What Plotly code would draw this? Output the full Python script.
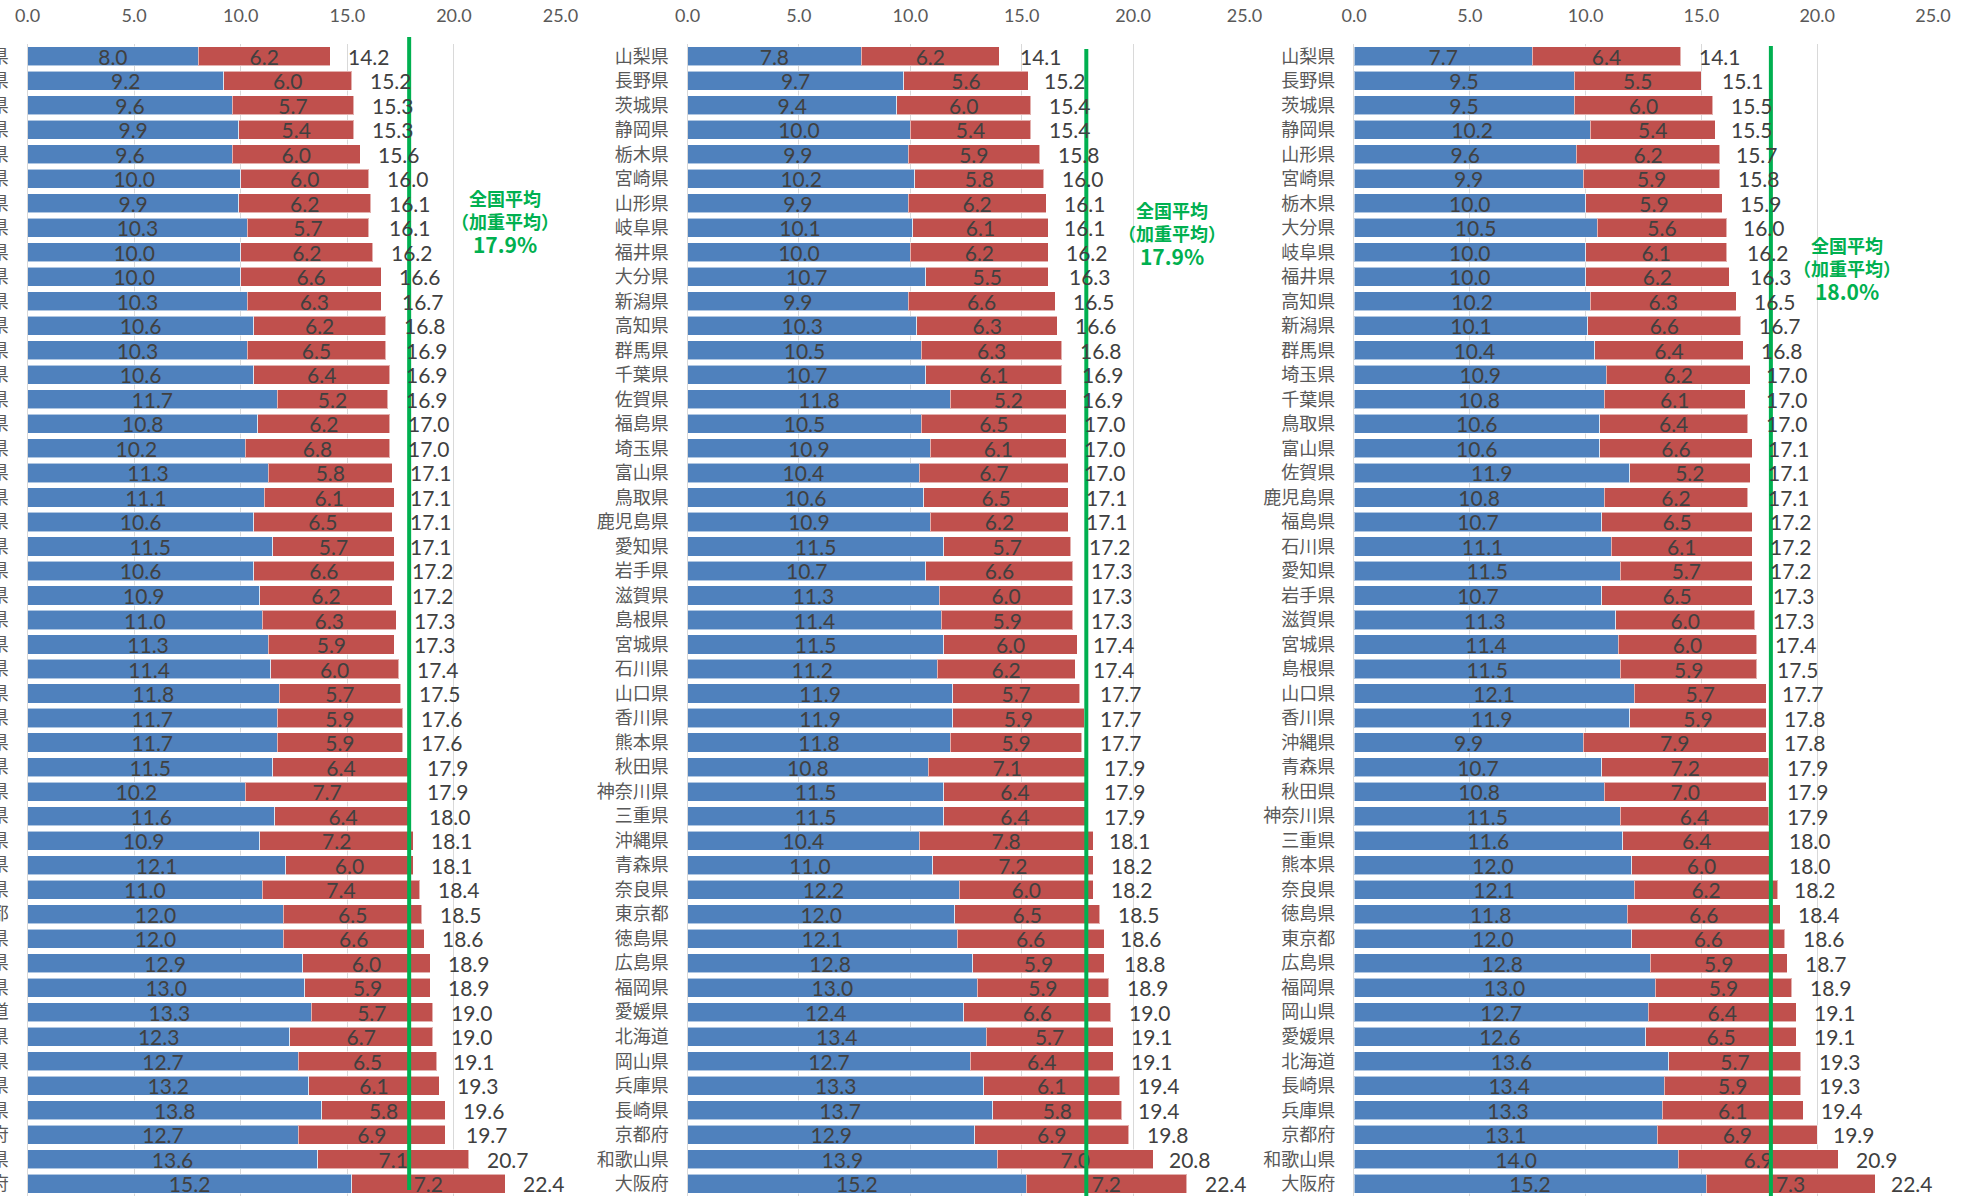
import plotly.graph_objects as go

# ---------------- data ----------------
names_a = ["山梨県", "長野県", "茨城県", "静岡県", "栃木県", "山形県", "宮崎県", "岐阜県", "福井県", "新潟県",
           "高知県", "大分県", "群馬県", "千葉県", "佐賀県", "福島県", "富山県", "埼玉県", "鹿児島県", "鳥取県",
           "愛知県", "岩手県", "滋賀県", "石川県", "島根県", "宮城県", "山口県", "熊本県", "香川県", "神奈川県",
           "沖縄県", "三重県", "秋田県", "奈良県", "青森県", "東京都", "徳島県", "広島県", "福岡県", "北海道",
           "愛媛県", "岡山県", "兵庫県", "長崎県", "京都府", "和歌山県", "大阪府"]
blue_a = [8.0, 9.2, 9.6, 9.9, 9.6, 10.0, 9.9, 10.3, 10.0, 10.0,
          10.3, 10.6, 10.3, 10.6, 11.7, 10.8, 10.2, 11.3, 11.1, 10.6,
          11.5, 10.6, 10.9, 11.0, 11.3, 11.4, 11.8, 11.7, 11.7, 11.5,
          10.2, 11.6, 10.9, 12.1, 11.0, 12.0, 12.0, 12.9, 13.0, 13.3,
          12.3, 12.7, 13.2, 13.8, 12.7, 13.6, 15.2]
red_a = [6.2, 6.0, 5.7, 5.4, 6.0, 6.0, 6.2, 5.7, 6.2, 6.6,
         6.3, 6.2, 6.5, 6.4, 5.2, 6.2, 6.8, 5.8, 6.1, 6.5,
         5.7, 6.6, 6.2, 6.3, 5.9, 6.0, 5.7, 5.9, 5.9, 6.4,
         7.7, 6.4, 7.2, 6.0, 7.4, 6.5, 6.6, 6.0, 5.9, 5.7,
         6.7, 6.5, 6.1, 5.8, 6.9, 7.1, 7.2]
total_a = [14.2, 15.2, 15.3, 15.3, 15.6, 16.0, 16.1, 16.1, 16.2, 16.6,
           16.7, 16.8, 16.9, 16.9, 16.9, 17.0, 17.0, 17.1, 17.1, 17.1,
           17.1, 17.2, 17.2, 17.3, 17.3, 17.4, 17.5, 17.6, 17.6, 17.9,
           17.9, 18.0, 18.1, 18.1, 18.4, 18.5, 18.6, 18.9, 18.9, 19.0,
           19.0, 19.1, 19.3, 19.6, 19.7, 20.7, 22.4]

names_b = ["山梨県", "長野県", "茨城県", "静岡県", "栃木県", "宮崎県", "山形県", "岐阜県", "福井県", "大分県",
           "新潟県", "高知県", "群馬県", "千葉県", "佐賀県", "福島県", "埼玉県", "富山県", "鳥取県", "鹿児島県",
           "愛知県", "岩手県", "滋賀県", "島根県", "宮城県", "石川県", "山口県", "香川県", "熊本県", "秋田県",
           "神奈川県", "三重県", "沖縄県", "青森県", "奈良県", "東京都", "徳島県", "広島県", "福岡県", "愛媛県",
           "北海道", "岡山県", "兵庫県", "長崎県", "京都府", "和歌山県", "大阪府"]
blue_b = [7.8, 9.7, 9.4, 10.0, 9.9, 10.2, 9.9, 10.1, 10.0, 10.7,
          9.9, 10.3, 10.5, 10.7, 11.8, 10.5, 10.9, 10.4, 10.6, 10.9,
          11.5, 10.7, 11.3, 11.4, 11.5, 11.2, 11.9, 11.9, 11.8, 10.8,
          11.5, 11.5, 10.4, 11.0, 12.2, 12.0, 12.1, 12.8, 13.0, 12.4,
          13.4, 12.7, 13.3, 13.7, 12.9, 13.9, 15.2]
red_b = [6.2, 5.6, 6.0, 5.4, 5.9, 5.8, 6.2, 6.1, 6.2, 5.5,
         6.6, 6.3, 6.3, 6.1, 5.2, 6.5, 6.1, 6.7, 6.5, 6.2,
         5.7, 6.6, 6.0, 5.9, 6.0, 6.2, 5.7, 5.9, 5.9, 7.1,
         6.4, 6.4, 7.8, 7.2, 6.0, 6.5, 6.6, 5.9, 5.9, 6.6,
         5.7, 6.4, 6.1, 5.8, 6.9, 7.0, 7.2]
total_b = [14.1, 15.2, 15.4, 15.4, 15.8, 16.0, 16.1, 16.1, 16.2, 16.3,
           16.5, 16.6, 16.8, 16.9, 16.9, 17.0, 17.0, 17.0, 17.1, 17.1,
           17.2, 17.3, 17.3, 17.3, 17.4, 17.4, 17.7, 17.7, 17.7, 17.9,
           17.9, 17.9, 18.1, 18.2, 18.2, 18.5, 18.6, 18.8, 18.9, 19.0,
           19.1, 19.1, 19.4, 19.4, 19.8, 20.8, 22.4]

names_c = ["山梨県", "長野県", "茨城県", "静岡県", "山形県", "宮崎県", "栃木県", "大分県", "岐阜県", "福井県",
           "高知県", "新潟県", "群馬県", "埼玉県", "千葉県", "鳥取県", "富山県", "佐賀県", "鹿児島県", "福島県",
           "石川県", "愛知県", "岩手県", "滋賀県", "宮城県", "島根県", "山口県", "香川県", "沖縄県", "青森県",
           "秋田県", "神奈川県", "三重県", "熊本県", "奈良県", "徳島県", "東京都", "広島県", "福岡県", "岡山県",
           "愛媛県", "北海道", "長崎県", "兵庫県", "京都府", "和歌山県", "大阪府"]
blue_c = [7.7, 9.5, 9.5, 10.2, 9.6, 9.9, 10.0, 10.5, 10.0, 10.0,
          10.2, 10.1, 10.4, 10.9, 10.8, 10.6, 10.6, 11.9, 10.8, 10.7,
          11.1, 11.5, 10.7, 11.3, 11.4, 11.5, 12.1, 11.9, 9.9, 10.7,
          10.8, 11.5, 11.6, 12.0, 12.1, 11.8, 12.0, 12.8, 13.0, 12.7,
          12.6, 13.6, 13.4, 13.3, 13.1, 14.0, 15.2]
red_c = [6.4, 5.5, 6.0, 5.4, 6.2, 5.9, 5.9, 5.6, 6.1, 6.2,
         6.3, 6.6, 6.4, 6.2, 6.1, 6.4, 6.6, 5.2, 6.2, 6.5,
         6.1, 5.7, 6.5, 6.0, 6.0, 5.9, 5.7, 5.9, 7.9, 7.2,
         7.0, 6.4, 6.4, 6.0, 6.2, 6.6, 6.6, 5.9, 5.9, 6.4,
         6.5, 5.7, 5.9, 6.1, 6.9, 6.9, 7.3]
total_c = [14.1, 15.1, 15.5, 15.5, 15.7, 15.8, 15.9, 16.0, 16.2, 16.3,
           16.5, 16.7, 16.8, 17.0, 17.0, 17.0, 17.1, 17.1, 17.1, 17.2,
           17.2, 17.2, 17.3, 17.3, 17.4, 17.5, 17.7, 17.8, 17.8, 17.9,
           17.9, 17.9, 18.0, 18.0, 18.2, 18.4, 18.6, 18.7, 18.9, 19.1,
           19.1, 19.3, 19.3, 19.4, 19.9, 20.9, 22.4]

averages = [17.9, 17.9, 18.0]
x_ticks = [0, 5, 10, 15, 20, 25]
avg_title1 = "全国平均"
avg_title2 = "（加重平均）"

# ---------------- layout constants ----------------
W, H = 1966, 1196
TOP = 44
PLOT_H = H - TOP
BLUE = "#4F81BD"
RED = "#C0504D"
GREEN = "#00B050"
TXT = "#404040"
AX = "#595959"
GRID = "#D9D9D9"
NUM_FONT = "Lato"
CJK_FONT = "Noto Sans CJK JP"

panel_px = [(27.6, 560.5), (687.5, 1244.5), (1354.0, 1933.0)]
line_top_px = [37, 49, 46]
line_bot_px = [1190, 1196, 1196]
note_px = [(505, 222), (1172, 234), (1847, 269)]

panels = [(names_a, blue_a, red_a, total_a),
          (names_b, blue_b, red_b, total_b),
          (names_c, blue_c, red_c, total_c)]

fig = go.Figure()
annotations = []
shapes = []

for i, (names, blue, red, total) in enumerate(panels):
    k = "" if i == 0 else str(i + 1)
    xa, ya = "x" + k, "y" + k
    for vals, col in ((blue, BLUE), (red, RED)):
        fig.add_trace(go.Bar(
            y=names, x=vals, orientation="h", xaxis=xa, yaxis=ya,
            marker=dict(color=col, line=dict(color="rgba(255,255,255,0.55)", width=1)),
            text=[f"{v:.1f}" for v in vals], textposition="inside", insidetextanchor="middle",
            textangle=0, constraintext="none",
            textfont=dict(family=NUM_FONT, size=21, color=TXT), hoverinfo="skip"))

    for n, t in zip(names, total):
        annotations.append(dict(x=t, y=n, xref=xa, yref=ya, text=f"{t:.1f}", showarrow=False,
                                xanchor="left", xshift=16,
                                font=dict(family=NUM_FONT, size=21, color=TXT)))

    x0p, x1p = panel_px[i]
    fig.update_layout(**{
        ("xaxis" + k): dict(domain=[x0p / W, x1p / W], range=[0, 25], side="top",
                            tickvals=x_ticks, ticktext=[f"{v:.1f}" for v in x_ticks],
                            showgrid=True, gridcolor=GRID, gridwidth=1.3, zeroline=False,
                            showline=False, ticks="outside", ticklen=14, tickcolor="rgba(0,0,0,0)",
                            tickfont=dict(family=NUM_FONT, size=18, color=AX),
                            anchor=ya, automargin=False, fixedrange=True),
        ("yaxis" + k): dict(domain=[0, 1], anchor=xa, type="category",
                            categoryorder="array", categoryarray=names,
                            range=[len(names) - 0.5, -0.5], showgrid=False,
                            showline=True, linecolor=GRID, linewidth=1.3,
                            ticks="outside", ticklen=14, tickcolor="rgba(0,0,0,0)",
                            tickfont=dict(family=CJK_FONT, size=18, color=AX),
                            automargin=False, fixedrange=True),
    })

    shapes.append(dict(type="line", xref=xa, yref=ya + " domain",
                       x0=averages[i], x1=averages[i],
                       y0=(H - line_bot_px[i]) / PLOT_H, y1=(H - line_top_px[i]) / PLOT_H,
                       line=dict(color=GREEN, width=4), layer="above"))

    cx, cy = note_px[i]
    note = (f"<b>{avg_title1}<br>{avg_title2}<br>"
            f"<span style='font-size:21px'>{averages[i]:.1f}%</span></b>")
    annotations.append(dict(x=cx / W, y=(H - cy) / PLOT_H, xref="paper", yref="paper",
                            text=note, showarrow=False, xanchor="center", yanchor="middle",
                            align="center", borderpad=0,
                            font=dict(family=CJK_FONT, size=18, color=GREEN)))

fig.update_layout(
    template="none",
    width=W, height=H,
    margin=dict(l=0, r=0, t=TOP, b=0, pad=0),
    barmode="stack", bargap=0.22,
    showlegend=False,
    plot_bgcolor="white", paper_bgcolor="white",
    annotations=annotations, shapes=shapes,
)

fig.write_html("out.html", config={"displayModeBar": False},
               post_script="document.body.style.margin='0';document.body.style.overflow='hidden';")
